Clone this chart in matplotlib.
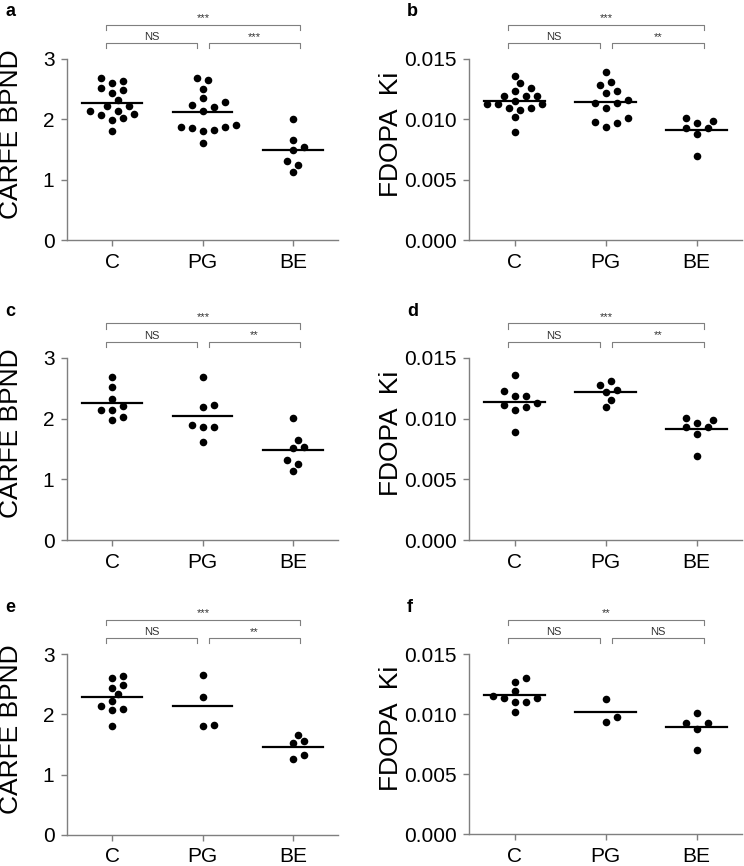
import numpy as np
import matplotlib.pyplot as plt
from matplotlib.transforms import blended_transform_factory

plt.rcParams['font.family'] = ['Liberation Sans', 'DejaVu Sans']

groups = ["C", "PG", "BE"]

# panel a / b : all subjects
carfe_all_C = [2.60, 2.63, 2.69, 2.48, 2.43, 2.52, 2.32, 2.22, 2.22, 2.13, 2.13, 2.09, 2.07, 2.02, 1.99, 1.81]
carfe_all_PG = [2.65, 2.68, 2.51, 2.35, 2.28, 2.23, 2.21, 2.14, 1.91, 1.88, 1.83, 1.81, 1.86, 1.88, 1.60]
carfe_all_BE = [2.01, 1.66, 1.54, 1.50, 1.31, 1.25, 1.13]

fdopa_all_C = [0.01361, 0.01301, 0.01262, 0.01234, 0.01193, 0.01193, 0.01193, 0.01152,
               0.01124, 0.01124, 0.01124, 0.01096, 0.01096, 0.01075, 0.01017, 0.00897]
fdopa_all_PG = [0.01389, 0.01282, 0.01309, 0.01220, 0.01237, 0.01160, 0.01133, 0.01138,
                0.01096, 0.00980, 0.00939, 0.00972, 0.01008]
fdopa_all_BE = [0.00967, 0.00988, 0.01008, 0.00930, 0.00930, 0.00876, 0.00696]

# panel c / d
carfe_c_C = [2.69, 2.52, 2.32, 2.21, 2.14, 2.14, 1.98, 2.02]
carfe_c_PG = [2.68, 2.20, 2.23, 1.87, 1.87, 1.90, 1.61]
carfe_c_BE = [2.01, 1.65, 1.54, 1.51, 1.32, 1.25, 1.13]

fdopa_d_C = [0.01357, 0.01230, 0.01189, 0.01189, 0.01126, 0.01115, 0.01096, 0.01068, 0.00894]
fdopa_d_PG = [0.01307, 0.01239, 0.01216, 0.01280, 0.01156, 0.01096]
fdopa_d_BE = [0.00967, 0.00988, 0.01008, 0.00930, 0.00930, 0.00876, 0.00696]

# panel e / f
carfe_e_C = [2.64, 2.61, 2.48, 2.44, 2.33, 2.22, 2.09, 2.07, 2.14, 1.81]
carfe_e_PG = [2.66, 2.28, 1.81, 1.83]
carfe_e_BE = [1.66, 1.55, 1.52, 1.26, 1.33]

fdopa_f_C = [0.01303, 0.01265, 0.01192, 0.01151, 0.01131, 0.01103, 0.01131, 0.01103, 0.01020]
fdopa_f_PG = [0.01128, 0.00937, 0.00978]
fdopa_f_BE = [0.01012, 0.00929, 0.00929, 0.00876, 0.00696]

sig_a = ["NS", "***", "***"]
sig_b = ["NS", "**", "***"]
sig_c = ["NS", "**", "***"]
sig_d = ["NS", "**", "***"]
sig_e = ["NS", "**", "***"]
sig_f = ["NS", "NS", "**"]

W, H = 744, 866
fig = plt.figure(figsize=(W / 100, H / 100), dpi=100)

GRAY = "#7f7f7f"


def swarm_offsets(ypix, diam=8.6, step=5.5):
    # simple beeswarm: put each dot at the closest free slot to the centre
    placed = []
    offs = np.zeros(len(ypix))
    for i in np.argsort(ypix):
        cands = [0.0]
        for k in range(1, 30):
            cands += [k * step, -k * step]
        for c in cands:
            if all((c - px) ** 2 + (ypix[i] - py) ** 2 >= diam ** 2 for px, py in placed):
                break
        placed.append((c, ypix[i]))
        offs[i] = c
    return offs


def draw_panel(rect, data, ylim, yticks, fmt, ylabel, sig, letter, lab_x):
    left, top, right, bottom = rect
    ax = fig.add_axes([left / W, 1 - bottom / H, (right - left) / W, (bottom - top) / H])
    ax.set_xlim(-0.5, 2.5)
    ax.set_ylim(*ylim)
    px_per_cat = (right - left) / 3.0
    for i, vals in enumerate(data):
        vals = np.array(vals)
        ypix = ax.transData.transform(np.column_stack([np.zeros(len(vals)), vals]))[:, 1]
        xs = i + swarm_offsets(ypix) / px_per_cat
        ax.scatter(xs, vals, s=30, color="black", zorder=3, linewidths=0)
        ax.plot([i - 0.33, i + 0.33], [vals.mean()] * 2, color="black", lw=1.6, zorder=4)

    for s in ["top", "right"]:
        ax.spines[s].set_visible(False)
    for s in ["left", "bottom"]:
        ax.spines[s].set_color(GRAY)
        ax.spines[s].set_linewidth(1.0)
    ax.set_xticks(range(3))
    ax.set_xticklabels(groups, fontsize=15)
    ax.set_yticks(yticks)
    ax.set_yticklabels([fmt.format(v) for v in yticks], fontsize=15)
    ax.tick_params(length=4, width=1.0, color=GRAY, pad=5)
    ax.set_ylabel(ylabel, fontsize=19)
    ax.yaxis.set_label_coords(lab_x, 0.585)

    # significance brackets
    tr = blended_transform_factory(ax.transData, ax.transAxes)
    spans = [(-0.07, 0.94, 1.088), (1.07, 2.08, 1.088), (-0.07, 2.08, 1.19)]
    for (x0, x1, yb), txt in zip(spans, sig):
        ax.plot([x0, x0, x1, x1], [yb - 0.028, yb, yb, yb - 0.028], color=GRAY,
                lw=0.8, transform=tr, clip_on=False)
        ax.text((x0 + x1) / 2, yb + 0.008, txt, ha="center", va="bottom",
                fontsize=8, color="#333333", transform=tr)

    fig.text((left - 62) / W, 1 - (top - 47) / H, letter, fontsize=13,
             fontweight="bold", ha="left", va="center")
    return ax


draw_panel((67, 59, 338, 240), [carfe_all_C, carfe_all_PG, carfe_all_BE], (0, 3),
           [0, 1, 2, 3], "{:.0f}", "CARFE BPND", sig_a, "a", -0.162)
draw_panel((469, 59, 742, 240), [fdopa_all_C, fdopa_all_PG, fdopa_all_BE], (0, 0.015),
           [0, 0.005, 0.010, 0.015], "{:.3f}", "FDOPA  Ki", sig_b, "b", -0.24)
draw_panel((67, 358, 338, 540), [carfe_c_C, carfe_c_PG, carfe_c_BE], (0, 3),
           [0, 1, 2, 3], "{:.0f}", "CARFE BPND", sig_c, "c", -0.162)
draw_panel((469, 358, 742, 540), [fdopa_d_C, fdopa_d_PG, fdopa_d_BE], (0, 0.015),
           [0, 0.005, 0.010, 0.015], "{:.3f}", "FDOPA  Ki", sig_d, "d", -0.24)
draw_panel((67, 654, 338, 835), [carfe_e_C, carfe_e_PG, carfe_e_BE], (0, 3),
           [0, 1, 2, 3], "{:.0f}", "CARFE BPND", sig_e, "e", -0.162)
draw_panel((469, 654, 742, 834), [fdopa_f_C, fdopa_f_PG, fdopa_f_BE], (0, 0.015),
           [0, 0.005, 0.010, 0.015], "{:.3f}", "FDOPA  Ki", sig_f, "f", -0.24)

fig.savefig("out.png", dpi=100)
